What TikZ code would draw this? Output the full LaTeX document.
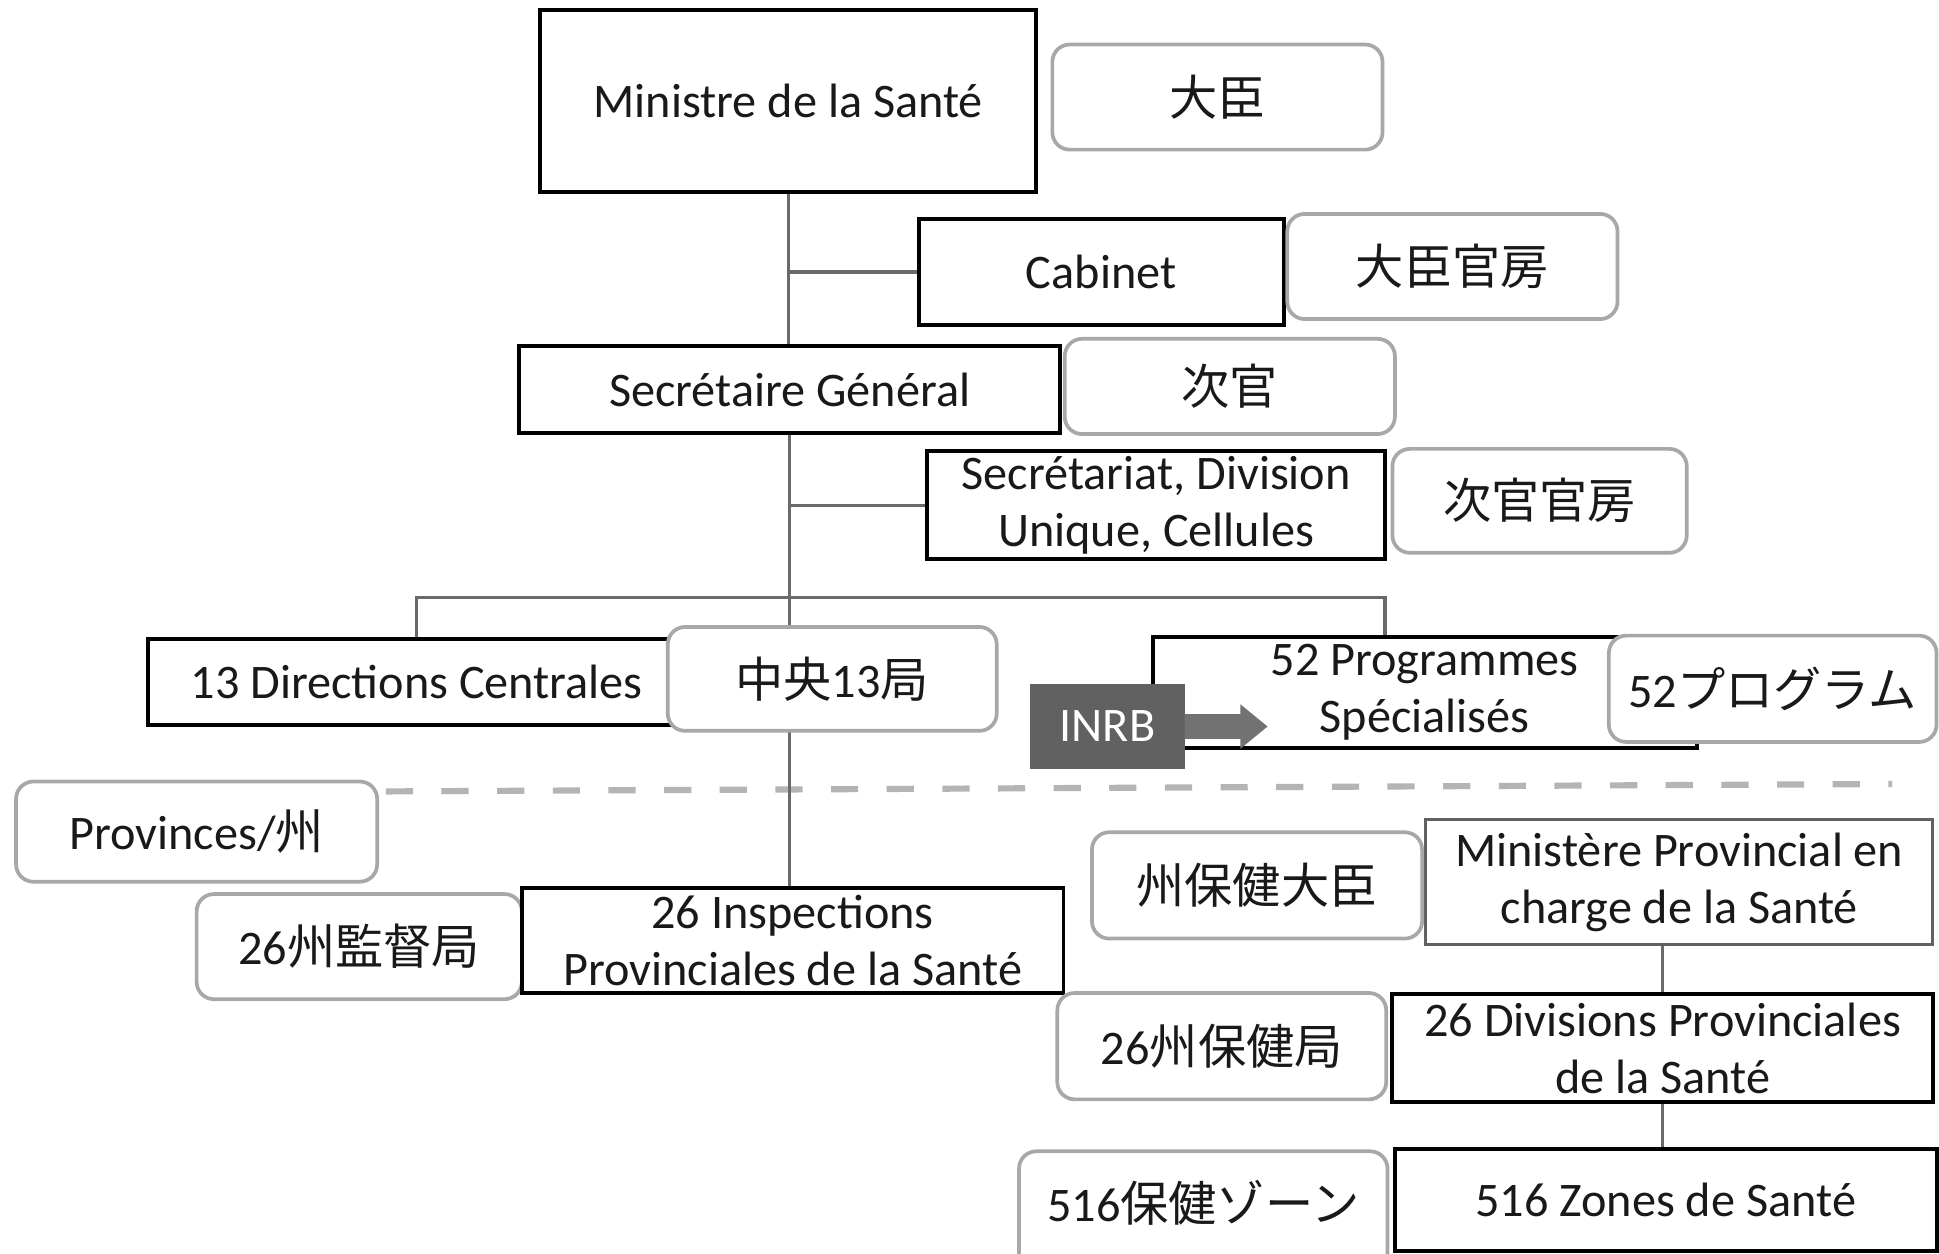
\documentclass[tikz,border=0pt]{standalone}
\usepackage{fontspec}
\setmainfont{Carlito}
\newfontfamily\cjk{Noto Sans CJK JP}
\usetikzlibrary{calc}
\pgfdeclarelayer{bg}
\pgfsetlayers{bg,main}
\definecolor{connc}{HTML}{6A6A6A}
\definecolor{jpgray}{HTML}{A8A8A8}
\definecolor{inrbc}{HTML}{616161}
\definecolor{arrowc}{HTML}{727272}
\definecolor{dashc}{HTML}{B4B4B4}
\begin{document}
\begin{tikzpicture}[x=1pt,y=-1pt,
  lbl/.style={font=\fontsize{39}{46}\selectfont, align=center, inner sep=0pt, outer sep=0pt, text=black!90},
  frbox/.style={lbl, rectangle, draw=black, line width=3.2pt, fill=white},
  grbox/.style={lbl, rectangle, draw=black!62, line width=2.6pt, fill=white},
  jpbox/.style={lbl, rectangle, draw=jpgray, line width=3pt, fill=white, rounded corners=14pt},
  inrbbox/.style={lbl, rectangle, fill=inrbc, text=white},
  conn/.style={draw=connc, line width=2.6pt},
  sep/.style={draw=dashc, line width=5pt, dash pattern=on 22pt off 23pt}
]
\useasboundingbox (0,0) rectangle (1568,1014);

% central level
\node[frbox, minimum width=401, minimum height=147] (min) at (637.5,81.5) {Ministre de la Santé};
\node[jpbox, minimum width=267, minimum height=85] (daijin) at (984.5,78.5) {\cjk 大臣};
\node[frbox, minimum width=295, minimum height=86] (cab) at (890.5,220) {Cabinet};
\node[jpbox, minimum width=267, minimum height=85] (daijinkb) at (1174.5,215.5) {\cjk 大臣官房};
\node[frbox, minimum width=437, minimum height=70] (sg) at (638.5,315) {Secrétaire Général};
\node[jpbox, minimum width=267, minimum height=77] (jikan) at (994.5,312.5) {\cjk 次官};
\node[frbox, minimum width=370, minimum height=87] (secr) at (935,408.5) {Secrétariat, Division\\Unique, Cellules};
\node[jpbox, minimum width=238, minimum height=84] (jikankb) at (1245,405) {\cjk 次官官房};
\node[frbox, minimum width=434, minimum height=69] (dir) at (337,551.5) {13 Directions Centrales};
\node[jpbox, minimum width=266, minimum height=84] (chuo) at (673,549) {{\cjk 中央}13{\cjk 局}};
\node[frbox, minimum width=440, minimum height=90] (prog) at (1152,560) {52 Programmes\\Spécialisés};
\node[jpbox, minimum width=265, minimum height=86] (progjp) at (1433.5,557) {52{\cjk プログラム}};
\node[inrbbox, minimum width=125, minimum height=69] (inrb) at (895.5,587.5) {INRB};
\fill[arrowc] (inrb.east) ++(0,-10) -- ++(45,0) -- ++(0,-8) -- ++(22,18) -- ++(-22,18) -- ++(0,-8) -- ++(-45,0) -- cycle;

% provincial level
\node[jpbox, minimum width=292, minimum height=81] (prov) at (159,672.5) {Provinces/{\cjk 州}};
\node[jpbox, minimum width=263, minimum height=85] (kantoku) at (290.5,765.5) {26{\cjk 州監督局}};
\node[frbox, minimum width=438, minimum height=85] (insp) at (641,760.5) {26 Inspections\\Provinciales de la Santé};
\node[jpbox, minimum width=267, minimum height=86] (shudaijin) at (1016.5,716) {\cjk 州保健大臣};
\node[grbox, minimum width=410, minimum height=101] (minprov) at (1358,713.5) {Ministère Provincial en\\charge de la Santé};
\node[jpbox, minimum width=266, minimum height=86] (shuhoken) at (988,846) {26{\cjk 州保健局}};
\node[frbox, minimum width=437, minimum height=87] (div) at (1344.5,847.5) {26 Divisions Provinciales\\de la Santé};
\node[jpbox, minimum width=298, minimum height=100, text height=34pt, text depth=20pt] (zonejp) at (973,981) {516{\cjk 保健ゾーン}};
\node[frbox, minimum width=438, minimum height=83] (zones) at (1347,970.5) {516 Zones de Santé};

\coordinate (bar) at (0,483);
\coordinate (progtop) at (1120,514);
\coordinate (dashL) at (312,640);
\coordinate (dashR) at (1530,634);

\begin{pgfonlayer}{bg}
\fill[white] (0,0) rectangle (1568,1014);
\draw[sep] (dashL) -- (dashR);
\draw[conn] (min.south) -- (min.south |- sg.north);
\draw[conn] (cab.west) -- (cab.west -| min.south);
\draw[conn] (sg.south) -- (sg.south |- insp.north);
\draw[conn] (secr.west) -- (secr.west -| sg.south);
\draw[conn] (dir.north) -- (dir.north |- bar) -- (progtop |- bar) -- (progtop);
\draw[conn] (div.north |- minprov.south) -- (div.north);
\draw[conn] (div.south) -- (div.south |- zones.north);
\end{pgfonlayer}
\end{tikzpicture}
\end{document}
